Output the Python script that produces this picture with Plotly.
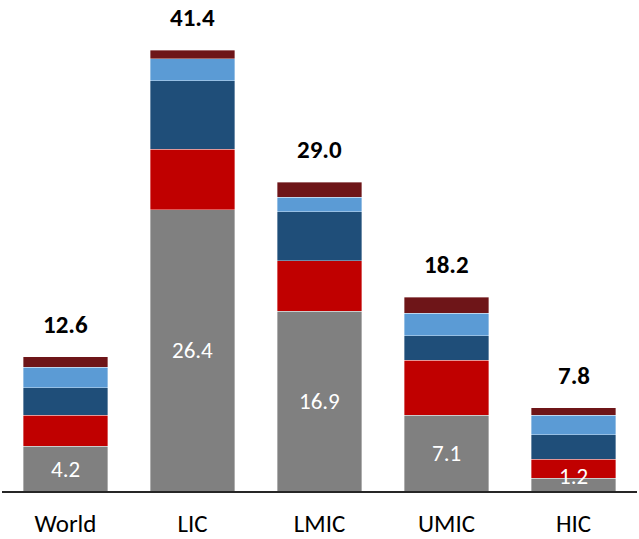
import plotly.graph_objects as go

# Income groups along the x axis
groups = ["World", "LIC", "LMIC", "UMIC", "HIC"]

# Stacked components, bottom to top
base = [4.2, 26.4, 16.9, 7.1, 1.2]
comp_red = [2.9, 5.7, 4.7, 5.2, 1.8]
comp_navy = [2.6, 6.4, 4.6, 2.3, 2.3]
comp_sky = [1.9, 2.1, 1.4, 2.1, 1.8]
comp_maroon = [1.0, 0.8, 1.4, 1.5, 0.7]

# Totals printed above each stack
totals = [12.6, 41.4, 29.0, 18.2, 7.8]

series = [
    (base, "#808080"),
    (comp_red, "#C00000"),
    (comp_navy, "#1F4E79"),
    (comp_sky, "#5B9BD5"),
    (comp_maroon, "#6E1518"),
]

FONT = "Carlito, Calibri, Lato, sans-serif"

fig = go.Figure()
for values, color in series:
    fig.add_trace(go.Bar(
        x=groups,
        y=values,
        marker=dict(color=color, line=dict(color="rgba(255,255,255,0.45)", width=0.8)),
        hoverinfo="skip",
        showlegend=False,
    ))

# Total above each stack
for g, t in zip(groups, totals):
    fig.add_annotation(
        x=g, y=t, text=f"<b>{t:.1f}</b>", showarrow=False,
        yanchor="bottom", yshift=16, borderpad=0,
        font=dict(family=FONT, size=25, color="#000000"),
    )

# Value of the bottom segment, centred inside it
for g, v in zip(groups, base):
    fig.add_annotation(
        x=g, y=max(v / 2, 1.4), text=f"{v:.1f}", showarrow=False,
        yanchor="middle",
        font=dict(family=FONT, size=23, color="#FFFFFF"),
    )

fig.update_layout(
    barmode="stack",
    bargap=0.333,
    width=639,
    height=539,
    margin=dict(l=2, r=2, t=0, b=48, autoexpand=False),
    plot_bgcolor="white",
    paper_bgcolor="white",
    font=dict(family=FONT),
)
fig.update_xaxes(
    automargin=False,
    showline=True, linecolor="#262626", linewidth=1.5,
    ticks="outside", ticklen=9, tickcolor="rgba(0,0,0,0)",
    tickfont=dict(family=FONT, size=25, color="#000000"),
    showgrid=False,
)
fig.update_yaxes(
    range=[0, 46.1], visible=False, showgrid=False, zeroline=False,
)

fig.write_html("out.html")
